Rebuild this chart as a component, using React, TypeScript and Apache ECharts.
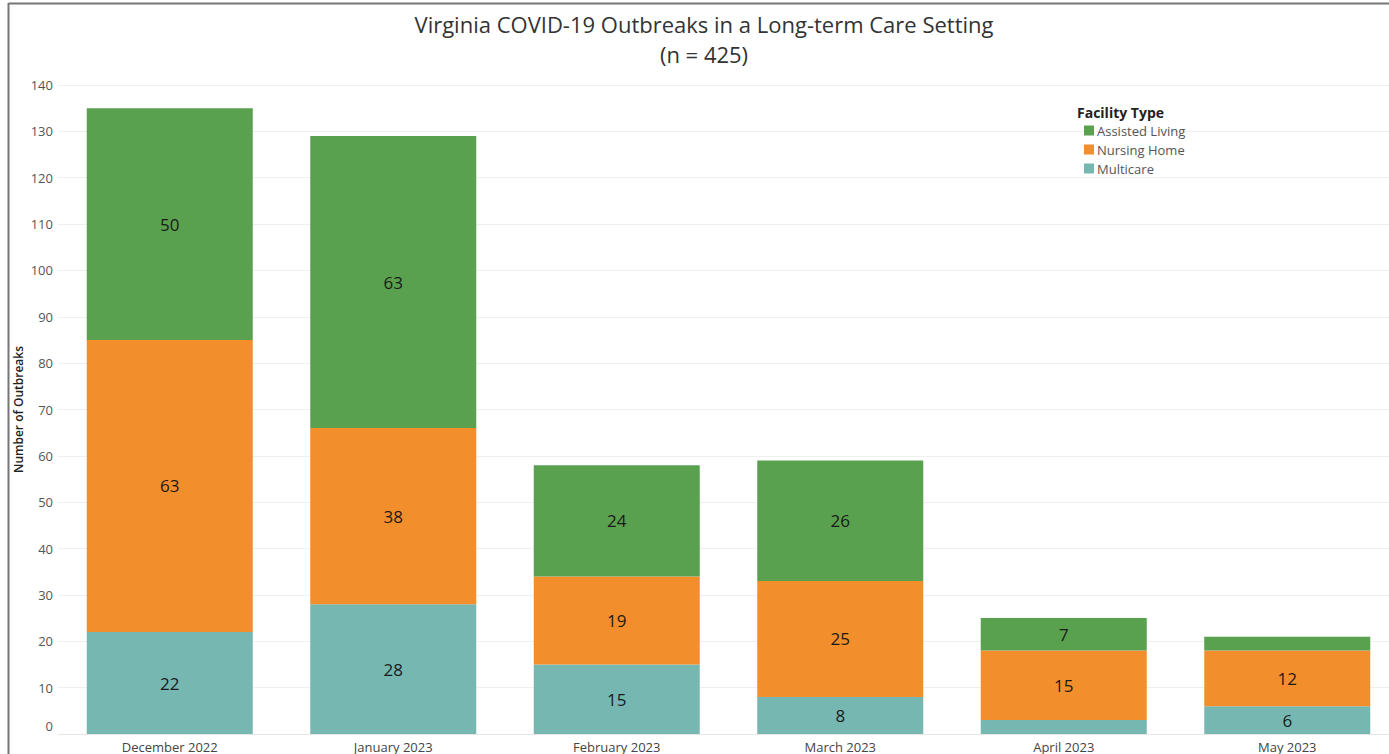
import React, { useEffect, useRef } from "react";
import * as echarts from "echarts";

const categories = ["December 2022", "January 2023", "February 2023", "March 2023", "April 2023", "May 2023"];
const multicare = [22, 28, 15, 8, 3, 6];
const nursingHome = [63, 38, 19, 25, 15, 12];
const assistedLiving = [50, 63, 24, 26, 7, 3];
const titleLines = ["Virginia COVID-19 Outbreaks in a Long-term Care Setting", "(n = 425)"];
const legendTitle = "Facility Type";
const yAxisName = "Number of Outbreaks";

const FONT = "'Open Sans', 'Noto Sans', sans-serif";

export default function App() {
  const ref = useRef<HTMLDivElement>(null);
  useEffect(() => {
    if (!ref.current) return;
    const chart = echarts.init(ref.current, undefined, { renderer: "svg" });
    const label = {
      show: true,
      position: "inside" as const,
      fontSize: 17,
      color: "#1a1a1a",
      fontFamily: FONT,
      formatter: (p: any) => (p.value >= 5 ? String(p.value) : ""),
    };
    chart.setOption({
      animation: false,
      backgroundColor: "#ffffff",
      textStyle: { fontFamily: FONT },
      grid: { left: 58, top: 85, right: 1, height: 649 },
      legend: {
        orient: "vertical",
        left: 1079,
        top: 119,
        icon: "rect",
        itemWidth: 10,
        itemHeight: 10,
        itemGap: 6,
        data: ["Assisted Living", "Nursing Home", "Multicare"],
        textStyle: { fontSize: 13, color: "#555", fontFamily: FONT, padding: [0, 0, 0, -2] },
      },
      xAxis: {
        type: "category",
        data: categories,
        axisTick: { show: false },
        axisLine: { show: true, lineStyle: { color: "#e6e6e6" } },
        axisLabel: { fontSize: 13, color: "#444", margin: 6, fontFamily: FONT },
      },
      yAxis: {
        type: "value",
        min: 0,
        max: 140,
        interval: 10,
        name: yAxisName,
        nameLocation: "middle",
        nameGap: 34,
        nameMoveOverlap: false,
        nameTextStyle: { fontSize: 12, color: "#222", fontWeight: 600, fontFamily: FONT },
        axisLabel: {
          fontSize: 13,
          color: "#555",
          margin: 5,
          fontFamily: FONT,
          formatter: (v: number) => (v === 0 ? "{z|0}" : String(v)),
          rich: { z: { fontSize: 13, color: "#555", fontFamily: FONT, padding: [0, 0, 16, 0] } },
        },
        splitLine: { lineStyle: { color: "#efefef" } },
        axisLine: { show: false },
        axisTick: { show: false },
      },
      series: [
        { name: "Multicare", type: "bar", stack: "t", data: multicare, barWidth: 166, itemStyle: { color: "#76B7B2" }, label },
        { name: "Nursing Home", type: "bar", stack: "t", data: nursingHome, barWidth: 166, itemStyle: { color: "#F28E2B" }, label },
        { name: "Assisted Living", type: "bar", stack: "t", data: assistedLiving, barWidth: 166, itemStyle: { color: "#59A14F" }, label },
      ],
      graphic: [
        { type: "line", shape: { x1: 8.5, y1: 3.5, x2: 1400, y2: 3.5 }, style: { stroke: "#777", lineWidth: 2 } },
        { type: "line", shape: { x1: 8.5, y1: 3, x2: 8.5, y2: 754 }, style: { stroke: "#777", lineWidth: 2 } },
        {
          type: "text",
          x: 704,
          y: 24,
          style: { text: titleLines[0], fontSize: 22, fill: "#333", textAlign: "center", textVerticalAlign: "middle", fontFamily: FONT },
        },
        {
          type: "text",
          x: 704,
          y: 54,
          style: { text: titleLines[1], fontSize: 22, fill: "#333", textAlign: "center", textVerticalAlign: "middle", fontFamily: FONT },
        },
        {
          type: "text",
          x: 1077,
          y: 112,
          style: { text: legendTitle, fontSize: 14, fontWeight: "bold", fill: "#222", textVerticalAlign: "middle", fontFamily: FONT },
        },
      ],
    });
    return () => chart.dispose();
  }, []);
  return (
    <div style={{ position: "absolute", left: 0, top: 0, width: 1389, height: 754, overflow: "hidden", background: "#fff" }}>
      <div ref={ref} style={{ width: 1400, height: 754 }} />
    </div>
  );
}
